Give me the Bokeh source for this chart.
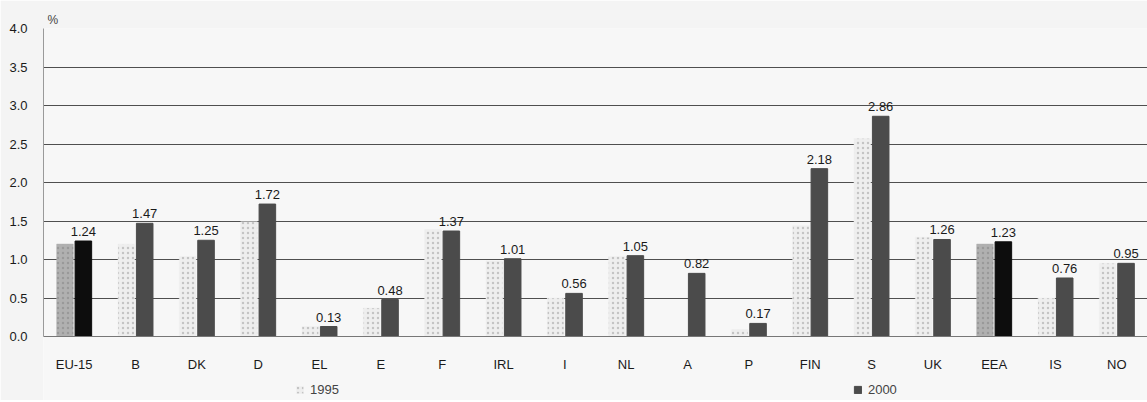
import numpy as np
from bokeh.plotting import figure
from bokeh.models import ColumnDataSource, Legend, LegendItem, NumeralTickFormatter, Title, FixedTicker
from bokeh.transform import dodge
from bokeh.embed import file_html
from bokeh.resources import INLINE
from bokeh.core.properties import value

countries = ["EU-15", "B", "DK", "D", "EL", "E", "F", "IRL", "I", "NL",
             "A", "P", "FIN", "S", "UK", "EEA", "IS", "NO"]
v1995 = [1.20, 1.20, 1.04, 1.49, 0.13, 0.37, 1.39, 0.98, 0.50, 1.04,
         np.nan, 0.09, 1.44, 2.57, 1.29, 1.20, 0.50, 0.95]
v2000 = [1.24, 1.47, 1.25, 1.72, 0.13, 0.48, 1.37, 1.01, 0.56, 1.05,
         0.82, 0.17, 2.18, 2.86, 1.26, 1.23, 0.76, 0.95]
aggregates = ["EU-15", "EEA"]
y_ticks = [0.0, 0.5, 1.0, 1.5, 2.0, 2.5, 3.0, 3.5, 4.0]

FONT = "Liberation Sans"
c95 = ["#b0b0b0" if c in aggregates else "#eeeeee" for c in countries]
h95 = ["#999999" if c in aggregates else "#c4c4c4" for c in countries]
c00 = ["#0d0d0d" if c in aggregates else "#4b4b4b" for c in countries]

src = ColumnDataSource(dict(
    country=countries,
    v1995=np.array(v1995, dtype=float),
    v2000=np.array(v2000, dtype=float),
    c95=c95, h95=h95, c00=c00,
    lbl=[f"{v:.2f}" for v in v2000],
))

# frame runs to the bottom edge; the category axis is pinned at y = 0
p = figure(x_range=countries, y_range=(-0.831, 4.0), width=1147, height=400,
           output_backend="svg", toolbar_location=None,
           min_border_left=43, min_border_top=28, min_border_bottom=0, min_border_right=0,
           background_fill_color="#f7f7f7", border_fill_color="#f4f4f4",
           outline_line_color=None)
p.x_range.range_padding = 0.0

r95 = p.vbar(x=dodge("country", -0.15, range=p.x_range), top="v1995", width=0.27,
             source=src, fill_color="c95", line_color="c95", line_width=0.5,
             hatch_pattern="dot", hatch_color="h95", hatch_scale=5, hatch_weight=1)
r00 = p.vbar(x=dodge("country", 0.15, range=p.x_range), top="v2000", width=0.27,
             source=src, fill_color="c00", line_color="c00")

p.text(x=dodge("country", 0.15, range=p.x_range), y="v2000", text="lbl", source=src,
       y_offset=-5, text_align="center", text_baseline="bottom",
       text_font=value(FONT), text_font_size="13px", text_color="#1a1a1a")

p.yaxis.ticker = FixedTicker(ticks=y_ticks)
p.yaxis.bounds = (0, 4.0)
p.yaxis.formatter = NumeralTickFormatter(format="0.0")
p.yaxis.major_label_text_font = FONT
p.yaxis.major_label_text_font_size = "13px"
p.yaxis.major_label_text_color = "#1a1a1a"
p.yaxis.axis_line_color = "#9a9a9a"
p.yaxis.major_tick_line_color = None
p.yaxis.minor_tick_line_color = None
p.yaxis.major_label_standoff = 10

p.xaxis.fixed_location = 0
p.xaxis.major_label_text_font = FONT
p.xaxis.major_label_text_font_size = "13px"
p.xaxis.major_label_text_color = "#1a1a1a"
p.xaxis.axis_line_color = "#777777"
p.xaxis.major_tick_line_color = None
p.xaxis.minor_tick_line_color = None
p.xaxis.major_label_standoff = 14

p.xgrid.grid_line_color = None
p.ygrid.grid_line_color = "#4f4f4f"
p.ygrid.grid_line_width = 1

legend = Legend(items=[LegendItem(label="1995", renderers=[r95], index=1),
                       LegendItem(label="2000", renderers=[r00], index=1)],
                orientation="horizontal", location=(252, 3), spacing=514,
                glyph_width=9, glyph_height=9, label_standoff=6,
                label_text_font=FONT, label_text_font_size="13px",
                label_height=13, background_fill_alpha=0, border_line_color=None,
                padding=2, margin=0)
p.add_layout(legend, "center")

p.add_layout(Title(text="%", align="left", offset=4, text_font=FONT,
                   text_font_size="12px", text_font_style="normal", standoff=3), "above")

open("out.html", "w").write(file_html(p, INLINE))
